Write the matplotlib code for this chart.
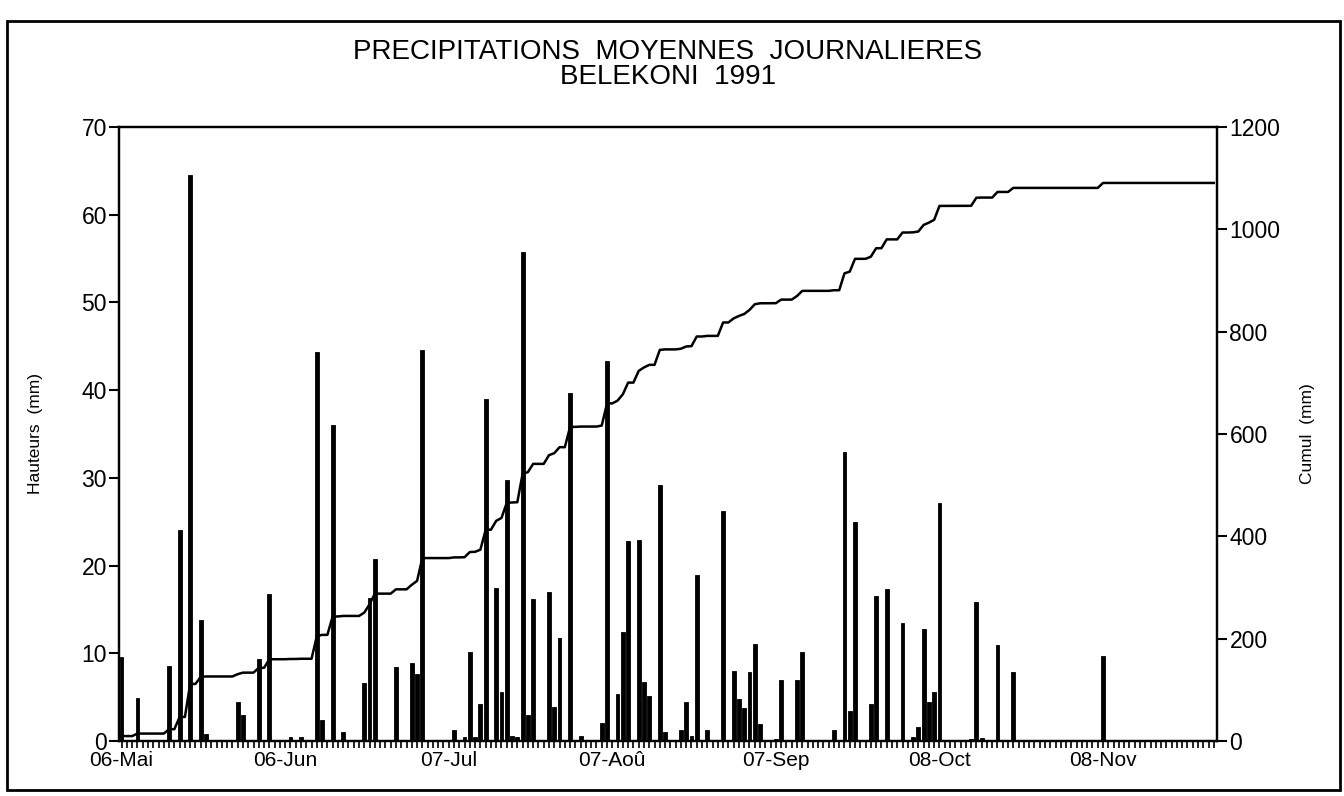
import numpy as np
import matplotlib
matplotlib.use("Agg")
import matplotlib.pyplot as plt
from matplotlib.patches import Rectangle
from matplotlib.ticker import MultipleLocator, FixedLocator

plt.rcParams['font.family'] = ['Liberation Sans', 'DejaVu Sans']

# day 0 = 06-Mai-1991, last day = 29-Nov (day 207)
n_days = 208
rain_day = [0, 3, 9, 11, 13, 15, 16, 22, 23, 26, 28, 32, 34, 37, 38, 40, 42,
            46, 47, 48, 52, 55, 56, 57, 63, 65, 66, 67, 68, 69, 71, 72, 73,
            74, 75, 76, 77, 78, 81, 82, 83, 85, 87, 91, 92, 94, 95, 96, 98,
            99, 100, 102, 103, 106, 107, 108, 109, 111, 114, 116, 117, 118,
            119, 120, 121, 124, 125, 128, 129, 135, 137, 138, 139, 142, 143,
            145, 148, 150, 151, 152, 153, 154, 155, 161, 162, 163, 166, 169,
            186]
rain_mm = [9.6, 4.9, 8.5, 24.0, 64.5, 13.8, 0.8, 4.5, 3.0, 9.4, 16.8, 0.5,
           0.4, 44.3, 2.4, 36.0, 1.0, 6.6, 16.3, 20.7, 8.4, 8.9, 7.6, 44.6,
           1.3, 0.4, 10.1, 0.4, 4.2, 39.0, 17.4, 5.6, 29.7, 0.6, 0.4, 55.8,
           3.0, 16.2, 17.0, 3.9, 11.7, 39.7, 0.6, 2.0, 43.3, 5.4, 12.4, 22.8,
           22.9, 6.7, 5.1, 29.2, 1.0, 1.3, 4.4, 0.6, 18.9, 1.2, 26.2, 8.0,
           4.8, 3.8, 7.9, 11.1, 1.9, 0.2, 7.0, 7.0, 10.1, 1.2, 33.0, 3.4,
           25.0, 4.2, 16.5, 17.3, 13.4, 0.4, 1.6, 12.8, 4.5, 5.6, 27.1, 0.2,
           15.8, 0.3, 11.0, 7.9, 9.7]
tick_days = [0, 31, 62, 93, 124, 155, 186]
tick_labels = ["06-Mai", "06-Jun", "07-Jul", "07-Aoû", "07-Sep", "08-Oct", "08-Nov"]

days = np.arange(n_days)
daily = np.zeros(n_days)
daily[rain_day] = rain_mm
cumul = np.cumsum(daily)

fig = plt.figure(figsize=(13.44, 7.96), dpi=100)
ax = fig.add_axes([0.0889, 0.0691, 0.8166, 0.7714])
ax2 = ax.twinx()

ax.bar(days, daily, width=0.72, color='black', edgecolor='black', linewidth=0.6)
ax2.plot(days, cumul, color='black', lw=1.8)

ax.set_xlim(-0.4, 207.6)
ax.set_ylim(0, 70)
ax2.set_ylim(0, 1200)

ax.xaxis.set_major_locator(FixedLocator(tick_days))
ax.set_xticklabels(tick_labels)
ax.xaxis.set_minor_locator(MultipleLocator(1))
ax.yaxis.set_major_locator(MultipleLocator(10))
ax2.yaxis.set_major_locator(MultipleLocator(200))

ax.tick_params(axis='x', which='both', direction='out', length=5, width=1.2,
               labelsize=15, pad=2)
ax.tick_params(axis='y', direction='out', length=7, width=1.5, labelsize=16.5, pad=2)
ax2.tick_params(axis='y', direction='out', length=7, width=1.5, labelsize=16.5, pad=2)
for lab in ax.get_yticklabels() + ax2.get_yticklabels():
    lab.set_verticalalignment('center_baseline')

for a in (ax, ax2):
    for s in a.spines.values():
        s.set_linewidth(1.6)

ax.set_ylabel("Hauteurs  (mm)", fontsize=12.5, labelpad=28)
ax2.set_ylabel("Cumul  (mm)", fontsize=12.5, labelpad=14)

fig.text(0.497, 0.935, "PRECIPITATIONS  MOYENNES  JOURNALIERES", ha='center',
         va='center', fontsize=20)
fig.text(0.497, 0.903, "BELEKONI  1991", ha='center', va='center', fontsize=20)

# outer frame of the page
fig.patches.append(Rectangle((0.005, 0.008), 0.992, 0.965, transform=fig.transFigure,
                             fill=False, lw=2, color='black'))

fig.savefig("out.png", dpi=100)
